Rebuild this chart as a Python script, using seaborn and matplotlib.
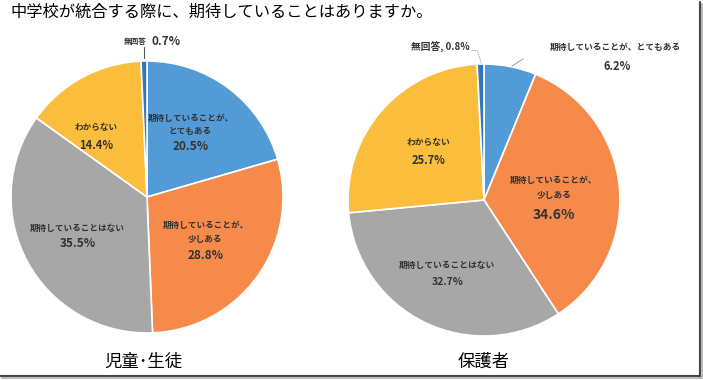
import matplotlib.pyplot as plt
import seaborn as sns
from matplotlib.lines import Line2D

# data
title = "中学校が統合する際に、期待していることはありますか。"
groups = ["児童･生徒", "保護者"]
categories = ["期待していることが、とてもある", "期待していることが、少しある",
              "期待していることはない", "わからない", "無回答"]
students = [20.5, 28.8, 35.5, 14.4, 0.7]
parents = [6.2, 34.6, 32.7, 25.7, 0.8]
colors = ["#529bd7", "#f58a4b", "#a7a7a7", "#fbbd3c", "#2f78bd"]

sns.set_theme(style="white")
plt.rcParams['font.family'] = ['Noto Sans CJK JP', 'DejaVu Sans']

W, H = 703, 380
fig = plt.figure(figsize=(W / 100, H / 100), dpi=100)
TXT = "#333333"


def pie_axes(cx, cy, r):
    ax = fig.add_axes([(cx - r) / W, (H - cy - r) / H, 2 * r / W, 2 * r / H])
    return ax


def draw_pie(ax, values):
    ax.pie(values, colors=colors, startangle=90, counterclock=False,
           wedgeprops=dict(edgecolor="white", linewidth=1.2))
    ax.set_xlim(-1, 1)
    ax.set_ylim(-1, 1)
    ax.set_aspect("equal")
    ax.axis("off")


def put(ax, x, y, s, size, ha="center"):
    ax.text(x, y, s, ha=ha, va="center", fontsize=size, fontweight="bold", color=TXT)


pct = lambda v: f"{v:.1f}%"

# left pie: students
ax1 = pie_axes(147, 197, 136)
draw_pie(ax1, students)
put(ax1, 0.32, 0.58, "期待していることが、", 6.2)
put(ax1, 0.32, 0.485, "とてもある", 6.2)
put(ax1, 0.32, 0.37, pct(students[0]), 8.5)
put(ax1, 0.43, -0.21, "期待していることが、", 6.2)
put(ax1, 0.43, -0.31, "少しある", 6.2)
put(ax1, 0.43, -0.43, pct(students[1]), 8.5)
put(ax1, -0.51, -0.23, categories[2], 6.2)
put(ax1, -0.51, -0.34, pct(students[2]), 8.5)
put(ax1, -0.375, 0.51, categories[3], 6.2)
put(ax1, -0.375, 0.38, pct(students[3]), 8)
put(ax1, 0.0, 1.147, categories[4], 5.5, ha="right")
put(ax1, 0.03, 1.147, pct(students[4]), 8.5, ha="left")
ax1.plot([-0.02, -0.02], [1.10, 1.02], color="#555555", lw=0.8, clip_on=False)

# right pie: parents
ax2 = pie_axes(484, 200, 136)
draw_pie(ax2, parents)
put(ax2, 0.97, 1.12, "期待していることが、とてもある", 6.3)
put(ax2, 0.98, 0.985, pct(parents[0]), 8)
ax2.plot([0.206, 0.287], [0.985, 1.037], color="#999999", lw=0.7, clip_on=False)
put(ax2, 0.515, 0.147, "期待していることが、", 6.3)
put(ax2, 0.515, 0.03, "少しある", 6.3)
put(ax2, 0.515, -0.11, pct(parents[1]), 10)
put(ax2, -0.27, -0.48, categories[2], 6.3)
put(ax2, -0.27, -0.60, pct(parents[2]), 7.5)
put(ax2, -0.41, 0.42, categories[3], 6.3)
put(ax2, -0.41, 0.29, pct(parents[3]), 8)
put(ax2, -0.32, 1.12, f"{categories[4]}, {pct(parents[4])}", 7)
ax2.plot([-0.09, -0.05, -0.02], [1.10, 1.10, 1.005], color="#aaaaaa", lw=0.7,
         ls=(0, (2, 1)), clip_on=False)

# titles
fig.text(10 / W, 1 - 12 / H, title, ha="left", va="center", fontsize=11.7, color="black")
fig.text(143 / W, 1 - 362 / H, groups[0], ha="center", va="center", fontsize=12.5, color="black")
fig.text(484 / W, 1 - 362 / H, groups[1], ha="center", va="center", fontsize=12.5, color="black")

# frame shadow on right and bottom
fig.add_artist(Line2D([700 / W, 700 / W], [1 - 2 / H, 1 - 376 / H], color="#444444", lw=1.5,
                      transform=fig.transFigure))
fig.add_artist(Line2D([0, 700 / W], [1 - 376 / H, 1 - 376 / H], color="#444444", lw=1.5,
                      transform=fig.transFigure))
fig.add_artist(Line2D([702 / W, 702 / W], [1 - 4 / H, 1 - 378 / H], color="#bbbbbb", lw=1.5,
                      transform=fig.transFigure))
fig.add_artist(Line2D([2 / W, 702 / W], [1 - 378 / H, 1 - 378 / H], color="#bbbbbb", lw=1.5,
                      transform=fig.transFigure))

fig.savefig("out.png", dpi=100, facecolor="white")
